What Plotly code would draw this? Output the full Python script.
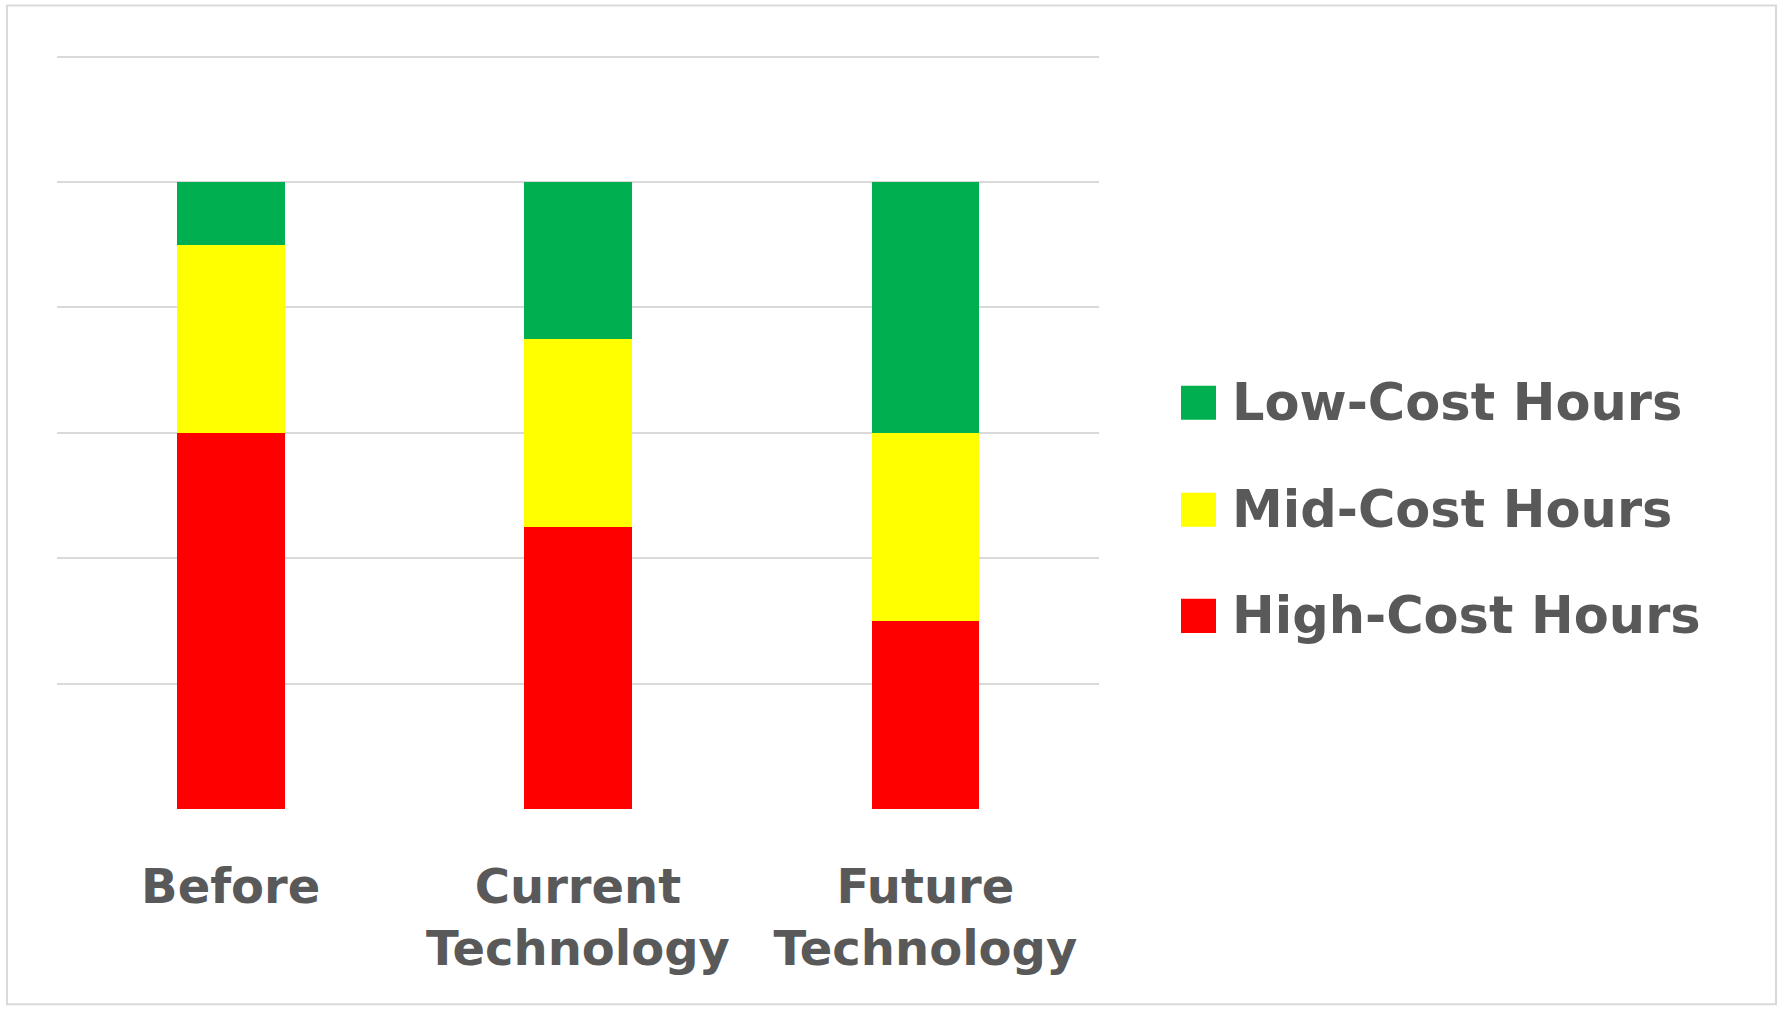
import plotly.graph_objects as go

# ---- data ----
categories = ["Before", "Current<br>Technology", "Future<br>Technology"]
series_names = ["High-Cost Hours", "Mid-Cost Hours", "Low-Cost Hours"]
high_cost = [60, 45, 30]
mid_cost = [30, 30, 30]
low_cost = [10, 25, 40]
series_colors = ["#ff0000", "#ffff00", "#00b050"]
y_ticks = [0, 20, 40, 60, 80, 100, 120]
y_max = 120.4

W, H = 1781, 1010
L, R, B = 57, 1099, 809
T = B - (B - 57) * y_max / 120.0  # keep 120 gridline at pixel 57

def px_x(px):
    return (px - L) / (R - L)

def px_y(py):
    return (B - py) / (B - T)

fig = go.Figure()
for name, vals, col in zip(series_names, [high_cost, mid_cost, low_cost], series_colors):
    fig.add_trace(go.Bar(x=categories, y=vals, name=name, marker_color=col,
                         marker_line_width=0, showlegend=False))

text_color = "#595959"
font_family = "DejaVu Sans"

fig.update_layout(
    width=W, height=H,
    margin=dict(l=L, r=W - R, t=T, b=H - B, pad=0),
    barmode="stack",
    bargap=0.69,
    plot_bgcolor="white",
    paper_bgcolor="white",
    showlegend=False,
)
fig.update_yaxes(range=[0, y_max], tickvals=y_ticks, showticklabels=False,
                 showgrid=True, gridcolor="#d9d9d9", gridwidth=2,
                 zeroline=False, showline=False, fixedrange=True)
fig.update_xaxes(showgrid=False, showline=False, ticks="",
                 tickfont=dict(family=font_family, size=48, color=text_color, weight="bold"),
                 ticklabelstandoff=45, fixedrange=True)

# outer light border
fig.add_shape(type="rect", xref="paper", yref="paper",
              x0=px_x(7), x1=px_x(1776), y0=px_y(1004), y1=px_y(6),
              line=dict(color="#d9d9d9", width=2), fillcolor="rgba(0,0,0,0)", layer="below")

# manual legend (top: Low, Mid, High)
legend_centers = [403, 510, 616]
order = list(reversed(range(len(series_names))))
for row, idx in enumerate(order):
    cy = legend_centers[row]
    fig.add_shape(type="rect", xref="paper", yref="paper",
                  x0=px_x(1181), x1=px_x(1216), y0=px_y(cy + 17), y1=px_y(cy - 17),
                  line=dict(width=0), fillcolor=series_colors[idx])
    fig.add_annotation(xref="paper", yref="paper", x=px_x(1230), y=px_y(cy),
                       xanchor="left", yanchor="middle", showarrow=False,
                       text=series_names[idx],
                       font=dict(family=font_family, size=51, color=text_color, weight="bold"))

fig.write_html("out.html")
